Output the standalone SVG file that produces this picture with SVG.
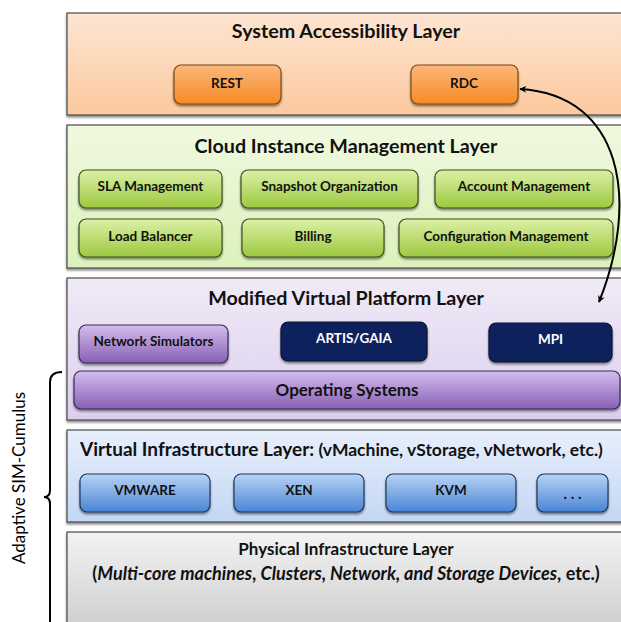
<svg xmlns="http://www.w3.org/2000/svg" width="621" height="622" viewBox="0 0 621 622">
<defs>
<linearGradient id="gL1" x1="0" y1="0" x2="0" y2="1"><stop offset="0" stop-color="#fee5d2"/><stop offset="1" stop-color="#fbc99e"/></linearGradient>
<linearGradient id="gL2" x1="0" y1="0" x2="0" y2="1"><stop offset="0" stop-color="#f0f9e0"/><stop offset="1" stop-color="#dcf1bb"/></linearGradient>
<linearGradient id="gL3" x1="0" y1="0" x2="0" y2="1"><stop offset="0" stop-color="#f0eaf7"/><stop offset="1" stop-color="#dccfee"/></linearGradient>
<linearGradient id="gL4" x1="0" y1="0" x2="0" y2="1"><stop offset="0" stop-color="#e8effc"/><stop offset="1" stop-color="#c3d7f4"/></linearGradient>
<linearGradient id="gL5" x1="0" y1="0" x2="0" y2="1"><stop offset="0" stop-color="#f3f3f3"/><stop offset="1" stop-color="#c9c9c9"/></linearGradient>
<linearGradient id="gOr" x1="0" y1="0" x2="0" y2="1"><stop offset="0" stop-color="#fcb77a"/><stop offset="1" stop-color="#f68b25"/></linearGradient>
<linearGradient id="gGr" x1="0" y1="0" x2="0" y2="1"><stop offset="0" stop-color="#dcf0a6"/><stop offset="1" stop-color="#9cc93f"/></linearGradient>
<linearGradient id="gPu" x1="0" y1="0" x2="0" y2="1"><stop offset="0" stop-color="#d3bdee"/><stop offset="1" stop-color="#8860b4"/></linearGradient>
<linearGradient id="gBl" x1="0" y1="0" x2="0" y2="1"><stop offset="0" stop-color="#b8d3f5"/><stop offset="1" stop-color="#4a85d5"/></linearGradient>
<filter id="sh" x="-5%" y="-5%" width="110%" height="130%"><feDropShadow dx="0" dy="2" stdDeviation="1.2" flood-color="#000" flood-opacity="0.45"/></filter>
<marker id="ah" viewBox="0 0 10 10" refX="9" refY="5" markerWidth="7" markerHeight="7" orient="auto-start-reverse" markerUnits="userSpaceOnUse"><path d="M0,0 L10,5 L0,10 L3,5 Z" fill="#000"/></marker>
<style>
.layer{stroke:#4a4a4a;stroke-width:1.2;filter:url(#sh)}
.btn{stroke-width:1.2;filter:url(#sh)}
.or{fill:url(#gOr);stroke:#7a4818}
.gr{fill:url(#gGr);stroke:#3e4f1c}
.pu{fill:url(#gPu);stroke:#3a2b52}
.bl{fill:url(#gBl);stroke:#1d3659}
.nv{fill:#0b225c;stroke:#06122f}
text{font-family:Lato,"Liberation Sans",sans-serif;font-weight:bold;fill:#111;text-anchor:middle}
.t{font-size:19.7px}
.b{font-size:13.5px}
.w{fill:#fff}
.os{font-size:17px}
</style>
</defs>

<g id="layer-system-accessibility">
<rect class="layer" x="67" y="13" width="570" height="102" fill="url(#gL1)"/>
<text class="t" x="346" y="38">System Accessibility Layer</text>
</g>
<g id="node-rest"><rect class="btn or" x="174" y="65" width="107" height="39" rx="7"/><text class="b" x="227" y="88">REST</text></g>
<g id="node-rdc"><rect class="btn or" x="411" y="65" width="107" height="39" rx="7"/><text class="b" x="464" y="88">RDC</text></g>

<g id="layer-cloud-instance">
<rect class="layer" x="67" y="125" width="570" height="143" fill="url(#gL2)"/>
<text class="t" x="346" y="153">Cloud Instance Management Layer</text>
</g>
<g id="node-sla"><rect class="btn gr" x="79" y="170" width="143" height="38" rx="7"/><text class="b" x="150.5" y="191">SLA Management</text></g>
<g id="node-snapshot"><rect class="btn gr" x="241" y="170" width="177" height="38" rx="7"/><text class="b" x="329.5" y="191">Snapshot Organization</text></g>
<g id="node-account"><rect class="btn gr" x="435" y="170" width="178" height="38" rx="7"/><text class="b" x="524" y="191">Account Management</text></g>
<g id="node-lb"><rect class="btn gr" x="79" y="219" width="143" height="38" rx="7"/><text class="b" x="150.5" y="241">Load Balancer</text></g>
<g id="node-billing"><rect class="btn gr" x="242" y="219" width="142" height="38" rx="7"/><text class="b" x="313" y="241">Billing</text></g>
<g id="node-config"><rect class="btn gr" x="399" y="219" width="214" height="38" rx="7"/><text class="b" x="506" y="241">Configuration Management</text></g>

<g id="layer-modified-virtual">
<rect class="layer" x="67" y="278" width="570" height="142" fill="url(#gL3)"/>
<text class="t" x="346" y="305">Modified Virtual Platform Layer</text>
</g>
<g id="node-netsim"><rect class="btn pu" x="79" y="325" width="149" height="38" rx="7"/><text class="b" x="153.5" y="346">Network Simulators</text></g>
<g id="node-artis"><rect class="btn nv" x="281" y="322" width="146" height="39" rx="7"/><text class="b w" x="354" y="343">ARTIS/GAIA</text></g>
<g id="node-mpi"><rect class="btn nv" x="489" y="323" width="123" height="39" rx="7"/><text class="b w" x="550.5" y="344">MPI</text></g>
<g id="node-os"><rect class="btn pu" x="74" y="371" width="546" height="38" rx="7"/><text class="os" x="347" y="396">Operating Systems</text></g>

<g id="layer-virtual-infra">
<rect class="layer" x="67" y="430" width="570" height="92" fill="url(#gL4)"/>
<text x="80" y="456" style="text-anchor:start"><tspan font-size="19px">Virtual Infrastructure Layer:</tspan><tspan font-size="17.5px"> (vMachine, vStorage, vNetwork, etc.)</tspan></text>
</g>
<g id="node-vmware"><rect class="btn bl" x="80" y="474" width="130" height="38" rx="7"/><text class="b" x="145" y="495">VMWARE</text></g>
<g id="node-xen"><rect class="btn bl" x="234" y="474" width="130" height="38" rx="7"/><text class="b" x="299" y="495">XEN</text></g>
<g id="node-kvm"><rect class="btn bl" x="386" y="474" width="130" height="38" rx="7"/><text class="b" x="451" y="495">KVM</text></g>
<g id="node-more"><rect class="btn bl" x="537" y="474" width="71" height="38" rx="7"/><text class="b" x="572.5" y="499" style="font-size:15px">. . .</text></g>

<g id="layer-physical">
<rect class="layer" x="67" y="532" width="570" height="110" fill="url(#gL5)"/>
<text x="346" y="555" style="font-size:17px">Physical Infrastructure Layer</text>
<text x="346" y="580" style="font-size:18px">(<tspan font-style="italic">Multi-core machines</tspan>, <tspan font-style="italic">Clusters, Network, and Storage Devices</tspan>, etc.)</text>
</g>

<g id="bracket">
<path d="M62,372 Q50,372 50,382 L50,490 Q50,497 44,497 Q50,497 50,504 L50,630" fill="none" stroke="#000" stroke-width="2"/>
<text transform="translate(25,478) rotate(-90)" style="font-size:17px;font-weight:normal;fill:#000">Adaptive SIM-Cumulus</text>
</g>

<g id="connectors">
<path d="M520,89 C622,95 640,200 599,302" fill="none" stroke="#000" stroke-width="2" marker-start="url(#ah)" marker-end="url(#ah)"/>
</g>
</svg>
